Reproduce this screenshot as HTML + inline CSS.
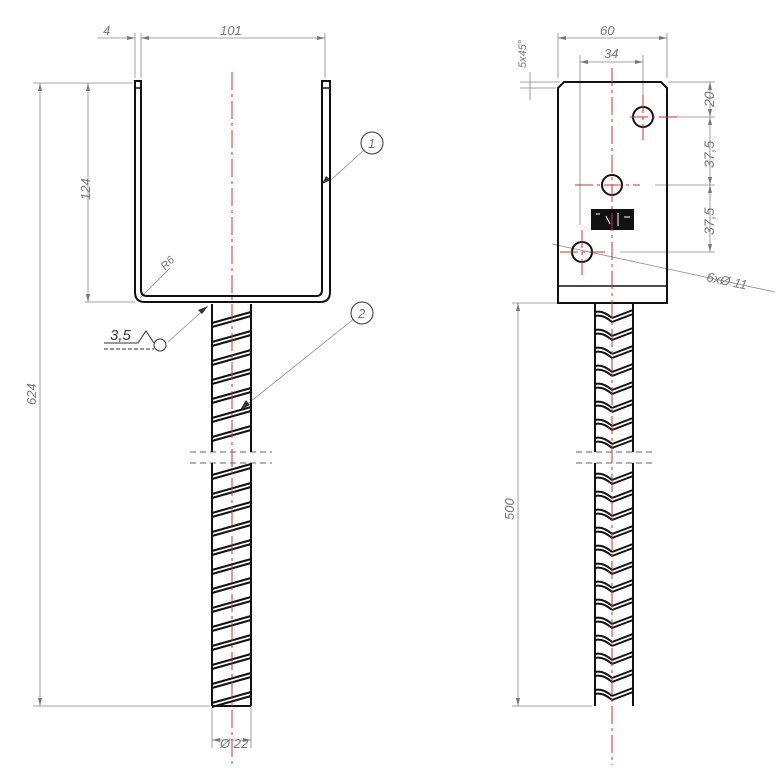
<!DOCTYPE html>
<html><head><meta charset="utf-8"><style>
html,body{margin:0;padding:0;background:#fff;}
svg{display:block}
text{font-family:"Liberation Sans",sans-serif;font-style:italic;fill:#777;font-size:13px}
</style></head><body>
<svg id="s" width="779" height="768" viewBox="0 0 779 768" xmlns="http://www.w3.org/2000/svg">
<g stroke="#888" stroke-width="0.8" fill="none">
<!-- top-left dims -->
<line x1="135" y1="33" x2="135" y2="78"/><line x1="141" y1="33" x2="141" y2="78"/><line x1="325" y1="33" x2="325" y2="78"/>
<line x1="98" y1="38" x2="135" y2="38"/><line x1="141" y1="38" x2="325" y2="38"/>
<!-- 624 -->
<line x1="33" y1="83" x2="133" y2="83"/><line x1="33" y1="706" x2="210" y2="706"/>
<line x1="40" y1="83" x2="40" y2="706"/>
<line x1="88" y1="83" x2="88" y2="302"/><line x1="85" y1="302" x2="135" y2="302"/>
<!-- Ø22 -->
<line x1="212" y1="706" x2="212" y2="748"/><line x1="251" y1="706" x2="251" y2="748"/>
<line x1="212" y1="740" x2="251" y2="740"/>
<!-- leaders -->
<line x1="140" y1="298" x2="170" y2="268"/>
<line x1="331" y1="180" x2="364" y2="150"/>
<line x1="240" y1="410" x2="355" y2="318"/>
<line x1="168" y1="342" x2="208" y2="306"/>
<!-- right dims -->
<line x1="558" y1="33" x2="558" y2="78"/><line x1="667" y1="33" x2="667" y2="78"/>
<line x1="558" y1="38" x2="667" y2="38"/>
<line x1="580" y1="55" x2="580" y2="225"/><line x1="643" y1="55" x2="643" y2="105"/>
<line x1="580" y1="62" x2="643" y2="62"/>
<line x1="520" y1="82" x2="560" y2="82"/><line x1="520" y1="88" x2="556" y2="88"/>
<line x1="530" y1="72" x2="530" y2="100"/>
<line x1="668" y1="82" x2="715" y2="82"/><line x1="668" y1="117" x2="715" y2="117"/>
<line x1="655" y1="185" x2="715" y2="185"/><line x1="620" y1="252" x2="715" y2="252"/>
<line x1="710" y1="82" x2="710" y2="252"/>
<line x1="552" y1="244" x2="775" y2="292"/>
<line x1="512" y1="303" x2="592" y2="303"/><line x1="512" y1="706" x2="592" y2="706"/>
<line x1="518" y1="303" x2="518" y2="706"/>
<!-- break lines -->
<g stroke="#333" stroke-dasharray="6,4"><line x1="190" y1="452" x2="272" y2="452"/><line x1="190" y1="463" x2="272" y2="463"/>
<line x1="576" y1="452" x2="652" y2="452"/><line x1="576" y1="463" x2="652" y2="463"/></g>
</g>
<g fill="#777">
<polygon points="135,38 127,36 127,40"/><polygon points="141,38 149,36 149,40"/><polygon points="325,38 317,36 317,40"/>
<polygon points="40,83 38,91 42,91"/><polygon points="40,706 38,698 42,698"/>
<polygon points="88,83 86,91 90,91"/><polygon points="88,302 86,294 90,294"/>
<polygon points="212,740 220,738 220,742"/><polygon points="251,740 243,738 243,742"/>
<polygon points="558,38 566,36 566,40"/><polygon points="667,38 659,36 659,40"/>
<polygon points="580,62 588,60 588,64"/><polygon points="643,62 635,60 635,64"/>
<polygon points="710,82 708,90 712,90"/><polygon points="710,117 708,109 712,109"/><polygon points="710,117 708,125 712,125"/>
<polygon points="710,185 708,177 712,177"/><polygon points="710,185 708,193 712,193"/><polygon points="710,252 708,244 712,244"/>
<polygon points="518,303 516,311 520,311"/><polygon points="518,706 516,698 520,698"/>
</g>
<g fill="#333"><polygon points="331,180 322,184 326,176"/><polygon points="240,410 246,400 250,405"/><polygon points="208,306 198,310 202,314"/></g>
<!-- U channel -->
<path d="M135,81 H141 V290 Q141,296 147,296 H316 Q322,296 322,290 V81 H330 V292 Q330,302 320,302 H145 Q135,302 135,292 Z" fill="none" stroke="#111" stroke-width="2"/>
<line x1="135" y1="88" x2="141" y2="88" stroke="#111" stroke-width="1.5"/><line x1="322" y1="88" x2="330" y2="88" stroke="#111" stroke-width="1.5"/>
<!-- plate -->
<path d="M564,82 H661 L667,88 V303 H558 V88 Z" fill="none" stroke="#111" stroke-width="2"/>
<line x1="558" y1="286" x2="667" y2="286" stroke="#111" stroke-width="1.5"/>
<g fill="none" stroke="#111" stroke-width="2"><circle cx="643" cy="117" r="10"/><circle cx="612" cy="185" r="10"/><circle cx="582" cy="252" r="10"/></g>
<rect x="591" y="209" width="43" height="21" fill="#111"/>
<g stroke="#fff" stroke-width="1"><line x1="596" y1="214" x2="600" y2="214"/><line x1="606" y1="216" x2="610" y2="224"/><line x1="618" y1="213" x2="618" y2="226"/><line x1="624" y1="217" x2="630" y2="217"/></g>
<!-- rebars -->
<g id="rb" fill="none" stroke="#111" stroke-width="2"></g>
<!-- red centerlines -->
<g stroke="#c33" stroke-width="1" stroke-dasharray="18,4,3,4" fill="none">
<line x1="232" y1="72" x2="232" y2="765"/><line x1="612" y1="68" x2="612" y2="765"/>
<line x1="630" y1="117" x2="680" y2="117"/><line x1="643" y1="95" x2="643" y2="140"/>
<line x1="575" y1="185" x2="640" y2="185"/>
<line x1="560" y1="252" x2="605" y2="252"/><line x1="582" y1="230" x2="582" y2="275"/>
</g>
<!-- balloons -->
<g fill="#fff" stroke="#333" stroke-width="1"><circle cx="372" cy="143" r="11"/><circle cx="362" cy="313" r="11"/><circle cx="160" cy="345" r="6"/></g>
<text x="368" y="148">1</text><text x="358" y="318">2</text>
<g stroke="#333" stroke-width="1" fill="none"><polyline points="104,343 138,343 146,331 154,343"/><line x1="104" y1="349" x2="154" y2="349" stroke-dasharray="4,2"/></g>
<text x="110" y="340" style="fill:#333;font-size:15px">3,5</text>
<text x="103" y="35">4</text><text x="220" y="35">101</text>
<text x="600" y="35">60</text><text x="604" y="58">34</text>
<text x="160" y="266" style="font-size:11px" transform="rotate(-45 168 262)">R6</text>
<text transform="translate(36,405) rotate(-90)">624</text>
<text transform="translate(90,200) rotate(-90)">124</text>
<text transform="translate(514,520) rotate(-90)">500</text>
<text transform="translate(526,68) rotate(-90)" style="font-size:11px">5x45°</text>
<text transform="translate(714,107) rotate(-90)" style="font-size:14px">20</text>
<text transform="translate(714,168) rotate(-90)" style="font-size:14px">37,5</text>
<text transform="translate(714,235) rotate(-90)" style="font-size:14px">37,5</text>
<text transform="translate(706,281) rotate(12)" style="font-size:13px">6xØ 11</text>
<text x="220" y="748">Ø 22</text>
</svg>
<script>
var g=document.getElementById('rb'),s='';
function L(a,b,c,d){s+='<line x1="'+a+'" y1="'+b+'" x2="'+c+'" y2="'+d+'"/>';}
L(212,304,212,452);L(251,304,251,452);L(212,463,212,706);L(251,463,251,706);L(212,706,251,706);
L(595,304,595,452);L(633,304,633,452);L(595,463,595,706);L(633,463,633,706);
for(var y=318;y<700;y+=19){if(y>440&&y<470)continue;L(212,y+5,251,y-6);L(212,y+9,251,y-2);}
for(var y=312;y<700;y+=18){if(y>440&&y<470)continue;s+='<path d="M595,'+y+' Q603,'+(y-2)+' 612,'+(y+6)+' M595,'+(y+4)+' Q603,'+(y+2)+' 612,'+(y+10)+'"/>';L(612,y+6,633,y-2);L(612,y+10,633,y+2);}
g.innerHTML=s;
</script>
</body></html>
